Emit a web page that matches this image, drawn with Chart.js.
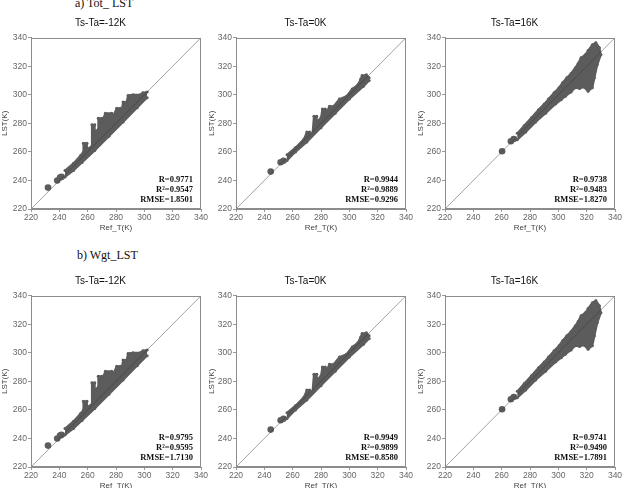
<!DOCTYPE html>
<html>
<head>
<meta charset="utf-8">
<script src="https://cdn.jsdelivr.net/npm/chart.js@4.4.1/dist/chart.umd.min.js"></script>
<style>
  body { margin: 0; background: #fff; }
  #wrap { position: relative; width: 625px; height: 488px; overflow: hidden; }
  canvas { position: absolute; }
  .head { position: absolute; font: 12px "Liberation Serif", "Times New Roman", serif; color: #111; white-space: nowrap; line-height: 12px; }
</style>
</head>
<body>
<div id="wrap">
  <div class="head" style="left:75px; top:-3px">a) Tot_ LST</div>
  <div class="head" style="left:77px; top:249px">b) Wgt_LST</div>
  <canvas id="c0" width="211" height="240" style="left:0px;top:0px"></canvas>
  <canvas id="c1" width="211" height="240" style="left:205px;top:0px"></canvas>
  <canvas id="c2" width="211" height="240" style="left:414px;top:0px"></canvas>
  <canvas id="c3" width="211" height="240" style="left:0px;top:258px"></canvas>
  <canvas id="c4" width="211" height="240" style="left:205px;top:258px"></canvas>
  <canvas id="c5" width="211" height="240" style="left:414px;top:258px"></canvas>
</div>
<script>
// axis ticks (K)
const tickValues = [220, 240, 260, 280, 300, 320, 340];
const oneToOne = [[220, 220], [340, 340]];
const titles = ["Ts-Ta=-12K", "Ts-Ta=0K", "Ts-Ta=16K"];

// point cloud outline [Ref_T, LST] : upper edge / lower edge, plus separate small clusters
const upperM12 = [[244, 247], [250, 252], [255, 257.5], [257, 260], [257, 266], [259.5, 266], [259.5, 262],
  [263, 264], [263, 279], [265, 279], [265, 274], [267.5, 276], [267.5, 283.5], [270, 283.5], [270, 281],
  [272.5, 287], [277, 287], [278, 285], [280.5, 290.5], [283, 290.5], [284, 289], [285, 295], [287.5, 295],
  [288.5, 299.5], [292, 300], [297, 300], [299, 301.5], [302, 302]];
const lowerM12 = [[244, 242.5], [250, 247], [256, 252.5], [265, 261], [275, 271], [285, 281], [295, 291], [302, 298]];
const blobsM12 = [[232, 235], [238.5, 240], [240.5, 242], [241.5, 242.5]];

const upper0 = [[256, 258], [262, 263], [268, 269], [270, 274], [272, 274], [272, 271], [274, 273], [275, 285],
  [277, 285], [277, 281], [280, 284], [281, 290], [283, 290], [284, 288], [286, 292], [289, 292], [293, 297],
  [298, 299], [302, 304], [306, 307], [308, 311], [309, 313.5], [312, 314], [314, 312]];
const lower0 = [[256, 254], [262, 260], [270, 267], [280, 277], [290, 287], [300, 297], [310, 306], [314, 310]];
const blobs0 = [[244.5, 246.2], [251.5, 252.8], [253.5, 253.8]];

const upper16 = [[271, 273], [276, 278.5], [281, 284], [286, 289.5], [290, 293.5], [293, 297], [297, 301.5],
  [300.5, 305], [303, 308.5], [306, 312], [309, 315], [312, 319], [314, 322], [316, 326], [319, 328],
  [321, 331], [324, 335], [326.5, 336.5], [329, 333], [330, 328]];
const lower16 = [[271, 268.5], [277, 274], [284, 281], [291, 287], [298, 293.5], [302, 296.5], [305, 299],
  [309, 302], [312, 305], [315, 304.5], [318, 305.5], [321, 302.5], [324, 305], [325.5, 312], [327.5, 321], [330, 328]];
const blobs16 = [[260.3, 260.5], [266.5, 267.5], [268.5, 269]];

const statsTot = [["R=0.9771", "R²=0.9547", "RMSE=1.8501"],
                  ["R=0.9944", "R²=0.9889", "RMSE=0.9296"],
                  ["R=0.9738", "R²=0.9483", "RMSE=1.8270"]];
const statsWgt = [["R=0.9795", "R²=0.9595", "RMSE=1.7130"],
                  ["R=0.9949", "R²=0.9899", "RMSE=0.8580"],
                  ["R=0.9741", "R²=0.9490", "RMSE=1.7891"]];

const clouds = [[upperM12, lowerM12, blobsM12], [upper0, lower0, blobs0], [upper16, lower16, blobs16]];
const yTitlePad = [0, 2, 2];

const cloudColor = "#5c5c5c";
const sans = "'Liberation Sans', Arial, sans-serif";

// frame + statistic text
const framePlugin = {
  id: "frame",
  afterDraw(chart, args, opts) {
    const { ctx, chartArea: a } = chart;
    ctx.save();
    ctx.strokeStyle = "#8c8c8c";
    ctx.lineWidth = 1;
    ctx.strokeRect(Math.round(a.left) + 0.5, Math.round(a.top) + 0.5,
      Math.round(a.right - a.left) - 1, Math.round(a.bottom - a.top) - 1);
    ctx.font = "bold 8.5px 'Liberation Serif', 'Times New Roman', serif";
    ctx.textAlign = "right";
    ctx.textBaseline = "middle";
    ctx.fillStyle = "#111";
    opts.lines.forEach((t, i) => ctx.fillText(t, a.right - 8, a.bottom - 29 + i * 10));
    ctx.restore();
  }
};

function axis(title, pad, isX) {
  return {
    type: "linear",
    min: 220,
    max: 340,
    afterBuildTicks: s => { s.ticks = tickValues.map(v => ({ value: v })); },
    afterFit: s => { if (isX) s.height = 31; else s.width = 31; },
    ticks: { font: { family: sans, size: 8.5 }, color: "#666", padding: 1, maxRotation: 0, autoSkip: false },
    grid: { drawOnChartArea: false, tickLength: 3, color: "#999" },
    border: { color: "#8c8c8c" },
    title: { display: true, text: title, font: { family: sans, size: 8 }, color: "#444", padding: pad }
  };
}

function makeChart(id, col, stats) {
  const [upper, lower, blobs] = clouds[col];
  new Chart(document.getElementById(id), {
    type: "scatter",
    data: {
      datasets: [
        { type: "line", data: oneToOne, borderColor: "rgba(50,50,50,0.45)", borderWidth: 1, pointRadius: 0, fill: false },
        { type: "line", data: upper, borderColor: cloudColor, backgroundColor: cloudColor, borderWidth: 2,
          pointRadius: 1.5, pointBackgroundColor: cloudColor, pointBorderWidth: 0, tension: 0, fill: "+1" },
        { type: "line", data: lower, borderColor: cloudColor, borderWidth: 2,
          pointRadius: 1.5, pointBackgroundColor: cloudColor, pointBorderWidth: 0, tension: 0, fill: false },
        { data: blobs, pointRadius: 3.3, pointStyle: "circle", backgroundColor: cloudColor, borderWidth: 0 }
      ]
    },
    options: {
      responsive: false,
      animation: false,
      devicePixelRatio: 1,
      layout: { padding: { left: 0, right: 10, top: 0, bottom: 0 } },
      scales: {
        x: axis("Ref_T(K)", { top: 0, bottom: 7 }, true),
        y: axis("LST(K)", { top: yTitlePad[col], bottom: 0 }, false)
      },
      plugins: {
        legend: { display: false },
        tooltip: { enabled: false },
        title: { display: true, text: titles[col], font: { family: sans, size: 10, weight: "normal" },
          color: "#111", padding: { top: 17.5, bottom: 8.2 } },
        frame: { lines: stats }
      }
    },
    plugins: [framePlugin]
  });
}

[0, 1, 2].forEach(col => {
  makeChart("c" + col, col, statsTot[col]);
  makeChart("c" + (col + 3), col, statsWgt[col]);
});
</script>
</body>
</html>
